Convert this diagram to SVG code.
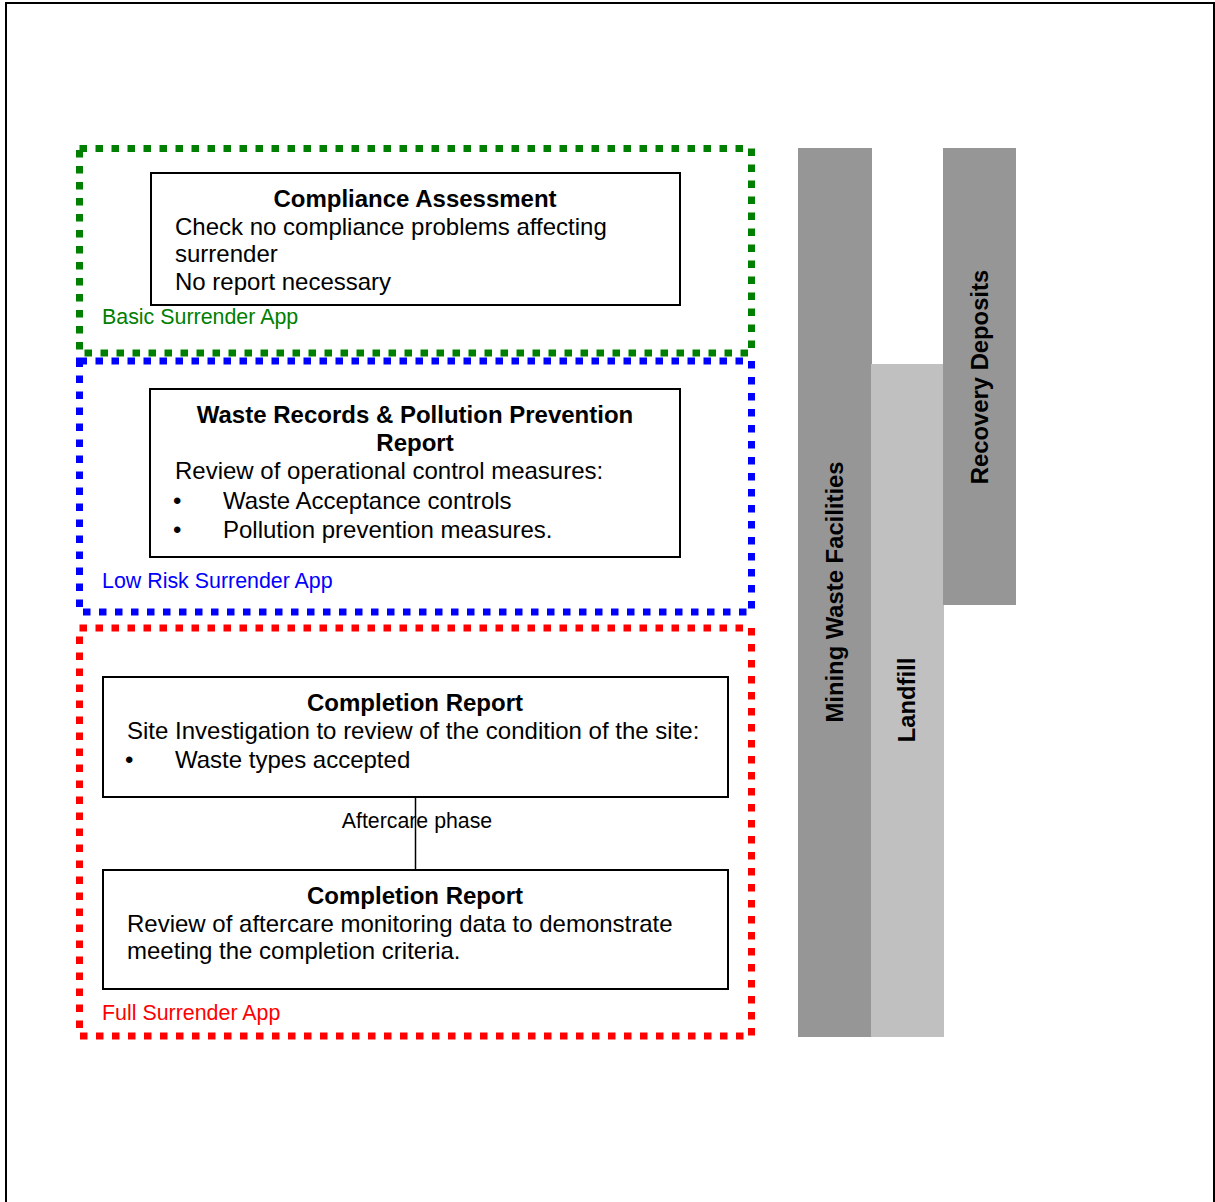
<svg xmlns="http://www.w3.org/2000/svg" width="1215" height="1202" viewBox="0 0 1215 1202">
<style>
text{font-family:"Liberation Sans",Arial,sans-serif;fill:#000}
.b{font-size:24px}
.t{font-size:24px;font-weight:bold;text-anchor:middle}
.l{font-size:21.4px}
.s{font-size:21.3px}
.v{font-size:23.8px;font-weight:bold;text-anchor:middle}
.box{fill:#fff;stroke:#000;stroke-width:2}
.zone{fill:none;stroke-width:7;stroke-dasharray:7.5 8.5}
</style>
<rect x="0" y="0" width="1215" height="1202" fill="#fff"/>
<rect x="6" y="3" width="1208" height="1210" fill="none" stroke="#000" stroke-width="2"/>
<g id="bar-mining"><rect x="798" y="148" width="74" height="889" fill="#969696"/><text class="v" transform="translate(843,592) rotate(-90)">Mining Waste Facilities</text></g>
<g id="bar-landfill"><rect x="871" y="364" width="73" height="673" fill="#c0c0c0"/><text class="v" transform="translate(915,700) rotate(-90)">Landfill</text></g>
<g id="bar-recovery"><rect x="943" y="148" width="73" height="457" fill="#969696"/><text class="v" transform="translate(988,377) rotate(-90)">Recovery Deposits</text></g>
<g id="zone-basic"><rect class="zone" x="79.5" y="148.5" width="672" height="204.5" stroke="#008000"/><text class="l" x="102" y="324" style="fill:#008000">Basic Surrender App</text></g>
<g id="zone-lowrisk"><rect class="zone" x="79.5" y="361" width="672" height="251" stroke="#0000ff"/><text class="l" x="102" y="588" style="fill:#0000ff">Low Risk Surrender App</text></g>
<g id="zone-full"><rect class="zone" x="79.5" y="628" width="672" height="408" stroke="#ff0000"/><text class="l" x="102" y="1020" style="fill:#ff0000">Full Surrender App</text></g>
<g id="connectors"><line x1="415.5" y1="797" x2="415.5" y2="870" stroke="#000" stroke-width="1.5"/><text class="s" x="417" y="828" text-anchor="middle">Aftercare phase</text></g>
<g id="node-compliance"><rect class="box" x="151" y="173" width="529" height="132"/>
<text class="t" x="415" y="207">Compliance Assessment</text>
<text class="b" x="175" y="235">Check no compliance problems affecting</text>
<text class="b" x="175" y="262">surrender</text>
<text class="b" x="175" y="290">No report necessary</text></g>
<g id="node-waste"><rect class="box" x="150" y="389" width="530" height="168"/>
<text class="t" x="415" y="423">Waste Records &amp; Pollution Prevention</text>
<text class="t" x="415" y="451">Report</text>
<text class="b" x="175" y="479">Review of operational control measures:</text>
<text class="b" x="173" y="509">•</text><text class="b" x="223" y="509">Waste Acceptance controls</text>
<text class="b" x="173" y="538">•</text><text class="b" x="223" y="538">Pollution prevention measures.</text></g>
<g id="node-completion1"><rect class="box" x="103" y="677" width="625" height="120"/>
<text class="t" x="415" y="711">Completion Report</text>
<text class="b" x="127" y="739">Site Investigation to review of the condition of the site:</text>
<text class="b" x="125" y="768">•</text><text class="b" x="175" y="768">Waste types accepted</text></g>
<g id="node-completion2"><rect class="box" x="103" y="870" width="625" height="119"/>
<text class="t" x="415" y="904">Completion Report</text>
<text class="b" x="127" y="932">Review of aftercare monitoring data to demonstrate</text>
<text class="b" x="127" y="959">meeting the completion criteria.</text></g>
</svg>
